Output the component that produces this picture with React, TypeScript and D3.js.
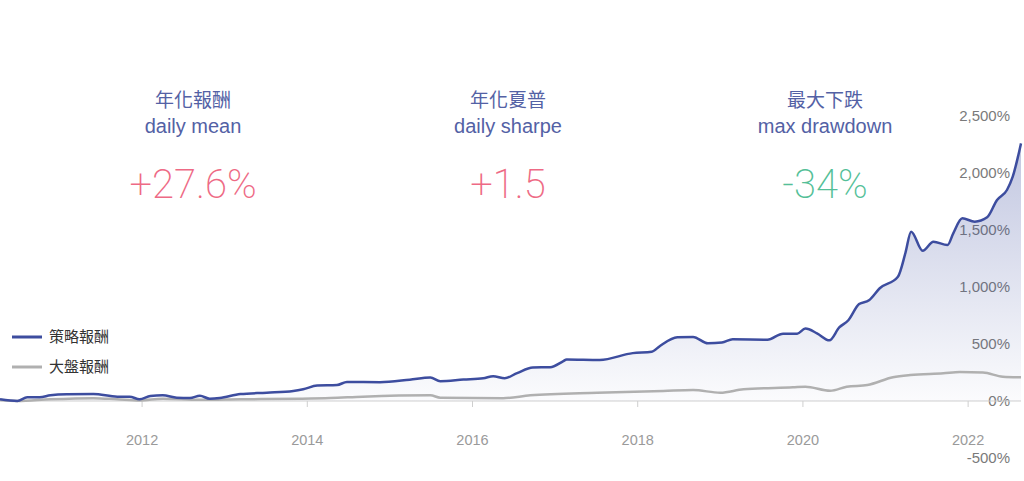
import * as d3 from "d3";

const W = 1024;
const H = 481;

// decimal-year dates
const STRAT_DATES = [
  2010.28, 2010.49, 2010.61, 2010.76, 2010.89, 2011.09, 2011.41, 2011.7, 2011.85, 2011.97,
  2012.1, 2012.25, 2012.42, 2012.58, 2012.7, 2012.82, 2012.94, 2013.19, 2013.51, 2013.83,
  2013.95, 2014.12, 2014.36, 2014.48, 2014.88, 2015.24, 2015.49, 2015.61, 2015.89, 2016.13,
  2016.25, 2016.39, 2016.54, 2016.73, 2016.94, 2017.1, 2017.14, 2017.54, 2017.94, 2018.17,
  2018.27, 2018.48, 2018.67, 2018.85, 2019.02, 2019.15, 2019.57, 2019.76, 2019.93, 2020.03,
  2020.17, 2020.32, 2020.44, 2020.55, 2020.68, 2020.8, 2020.93, 2021.15, 2021.24, 2021.31,
  2021.45, 2021.58, 2021.75, 2021.82, 2021.93, 2022.08, 2022.23, 2022.35, 2022.47, 2022.54,
  2022.64,
];
const STRAT_VALUES = [
  15, 0, 32, 32, 50, 59, 61, 38, 38, 15,
  44, 50, 29, 26, 46, 20, 26, 61, 73, 88,
  103, 135, 140, 167, 165, 187, 206, 174, 188, 199,
  218, 200, 245, 294, 296, 350, 365, 360, 420, 432,
  483, 559, 562, 506, 513, 541, 538, 591, 591, 635,
  594, 532, 645, 708, 850, 883, 989, 1090, 1296, 1485,
  1318, 1397, 1368, 1471, 1602, 1573, 1611, 1763, 1851, 1968,
  2260,
];

const MKT_DATES = [
  2010.28, 2010.49, 2010.89, 2011.41, 2011.7, 2011.97, 2012.25, 2012.7, 2013.19, 2013.91,
  2014.28, 2014.67, 2015.49, 2015.61, 2016.37, 2016.7, 2017.51, 2018.31, 2018.67, 2019.0,
  2019.28, 2019.88, 2020.03, 2020.33, 2020.53, 2020.78, 2021.09, 2021.3, 2021.7, 2021.9,
  2022.18, 2022.42, 2022.64,
];
const MKT_VALUES = [
  8, 0, 15, 25, 15, 5, 20, 10, 15, 20,
  26, 38, 50, 29, 24, 50, 73, 88, 96, 73,
  103, 120, 125, 90, 125, 140, 208, 228, 243, 254,
  250, 213, 208,
];

const X_TICKS = [2012, 2014, 2016, 2018, 2020, 2022];
const Y_TICKS = [-500, 0, 500, 1000, 1500, 2000, 2500];

const STATS = [
  { zh: "年化報酬", en: "daily mean", value: "+27.6%", color: "#ee6a85" },
  { zh: "年化夏普", en: "daily sharpe", value: "+1.5", color: "#ee6a85" },
  { zh: "最大下跌", en: "max drawdown", value: "-34%", color: "#55bf98" },
];
const STAT_X = [193, 508, 825];

const LEGEND = [
  { label: "策略報酬", color: "#3d4d9f" },
  { label: "大盤報酬", color: "#b0b0b0" },
];

const FONT = "'Liberation Sans', 'Noto Sans CJK TC', sans-serif";

// plain hyphen for negatives, as in the picture
const fmtPct = (v: number) => d3.format(",")(v).replace("\u2212", "-") + "%";

export default function App() {
  const x = d3.scaleLinear().domain([2010.28, 2022.64]).range([0, 1021]);
  const y = d3.scaleLinear().domain([0, 500]).range([401, 344]);

  const strat = STRAT_DATES.map((d, i) => [d, STRAT_VALUES[i]] as [number, number]);
  const mkt = MKT_DATES.map((d, i) => [d, MKT_VALUES[i]] as [number, number]);

  const line = d3
    .line<[number, number]>()
    .x((d) => x(d[0]))
    .y((d) => y(d[1]))
    .curve(d3.curveMonotoneX);
  const area = d3
    .area<[number, number]>()
    .x((d) => x(d[0]))
    .y0(y(0))
    .y1((d) => y(d[1]))
    .curve(d3.curveMonotoneX);

  return (
    <svg width={W} height={H} style={{ position: "absolute", left: 0, top: 0, fontFamily: FONT }}>
      <defs>
        <linearGradient id="fill" gradientUnits="userSpaceOnUse" x1={0} y1={y(2300)} x2={0} y2={y(0)}>
          <stop offset="0%" stopColor="#3d4d9f" stopOpacity={0.32} />
          <stop offset="100%" stopColor="#3d4d9f" stopOpacity={0.02} />
        </linearGradient>
      </defs>

      {STATS.map((s, i) => (
        <g key={s.zh} transform={`translate(${STAT_X[i]},0)`} textAnchor="middle">
          <text y={107} fontSize={19} fill="#5361a5">{s.zh}</text>
          <text y={133} fontSize={20} fill="#5361a5">{s.en}</text>
          <text y={198} fontSize={40} fontWeight={200} fill={s.color} fontFamily="Roboto, 'Liberation Sans', sans-serif">
            {s.value}
          </text>
        </g>
      ))}

      {/* y labels sit under the series */}
      {Y_TICKS.map((t) => (
        <text key={t} x={1010} y={y(t)} dy="0.36em" textAnchor="end" fontSize={15} fill="#7a7a7a">
          {fmtPct(t)}
        </text>
      ))}

      <line x1={0} x2={1021} y1={y(0)} y2={y(0)} stroke="#cfcfcf" strokeWidth={1} />
      {X_TICKS.map((t) => (
        <g key={t}>
          <line x1={x(t)} x2={x(t)} y1={y(0)} y2={y(0) + 6} stroke="#cfcfcf" />
          <text x={x(t)} y={445} textAnchor="middle" fontSize={14.5} fill="#9a9a9a">{t}</text>
        </g>
      ))}

      <path d={area(strat) ?? ""} fill="url(#fill)" />
      <path d={line(mkt) ?? ""} fill="none" stroke="#b0b0b0" strokeWidth={2.5} />
      <path d={line(strat) ?? ""} fill="none" stroke="#3d4d9f" strokeWidth={2.5} />

      {LEGEND.map((l, i) => (
        <g key={l.label} transform={`translate(12,${337 + i * 30})`}>
          <line x1={0} x2={30} y1={0} y2={0} stroke={l.color} strokeWidth={3} />
          <text x={37} dy="0.36em" fontSize={15} fill="#333">{l.label}</text>
        </g>
      ))}
    </svg>
  );
}
